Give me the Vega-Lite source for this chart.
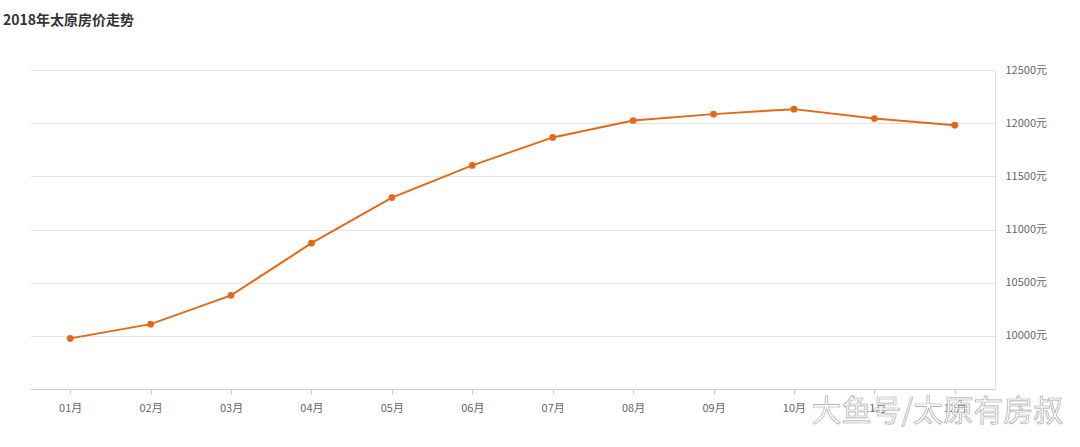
{
  "$schema": "https://vega.github.io/schema/vega-lite/v6.json",
  "width": 965,
  "height": 319,
  "autosize": {"type": "none"},
  "padding": {"left": 30, "top": 70, "right": 85, "bottom": 58},
  "background": "white",
  "config": {"view": {"stroke": null}, "font": "Noto Sans CJK SC"},
  "title": {
    "text": "2018年太原房价走势",
    "anchor": "start",
    "frame": "group",
    "dx": -27,
    "offset": 36,
    "fontSize": 14,
    "fontWeight": "bold",
    "color": "#333333",
    "font": "Noto Sans CJK SC"
  },
  "data": {
    "values": [
      {"month": "01月", "price": 9976},
      {"month": "02月", "price": 10110},
      {"month": "03月", "price": 10381},
      {"month": "04月", "price": 10871},
      {"month": "05月", "price": 11300},
      {"month": "06月", "price": 11603},
      {"month": "07月", "price": 11866},
      {"month": "08月", "price": 12025},
      {"month": "09月", "price": 12085},
      {"month": "10月", "price": 12132},
      {"month": "11月", "price": 12044},
      {"month": "12月", "price": 11981}
    ]
  },
  "layer": [
    {
      "mark": {"type": "line", "color": "#e2691a", "strokeWidth": 2},
      "encoding": {
        "x": {
          "field": "month",
          "type": "ordinal",
          "sort": null,
          "scale": {"type": "point", "padding": 0.5},
          "axis": {
            "title": null,
            "labelAngle": 0,
            "labelFontSize": 11,
            "labelColor": "#666666",
            "labelPadding": 8,
            "domainColor": "#cccccc",
            "tickColor": "#cccccc",
            "tickSize": 5,
            "grid": false
          }
        },
        "y": {
          "field": "price",
          "type": "quantitative",
          "scale": {"domain": [9500, 12500], "nice": false, "zero": false},
          "axis": {
            "orient": "right",
            "title": null,
            "values": [10000, 10500, 11000, 11500, 12000, 12500],
            "labelExpr": "datum.value + '元'",
            "labelFontSize": 11,
            "labelColor": "#666666",
            "labelPadding": 10,
            "ticks": false,
            "domainColor": "#e0e0e0",
            "gridColor": "#e3e3e3",
            "grid": true
          }
        }
      }
    },
    {
      "mark": {"type": "point", "filled": true, "color": "#e2691a", "size": 45, "opacity": 1},
      "encoding": {
        "x": {"field": "month", "type": "ordinal", "sort": null},
        "y": {"field": "price", "type": "quantitative"}
      }
    },
    {
      "data": {"values": [{"wm": "大鱼号/太原有房叔", "month": "11月", "price": 9500}]},
      "mark": {
        "type": "text",
        "fill": "#ffffff",
        "fillOpacity": 1,
        "stroke": "#a8a8a8",
        "strokeWidth": 0.7,
        "fontSize": 30,
        "font": "Noto Sans CJK SC",
        "align": "center",
        "baseline": "middle",
        "dx": 63,
        "dy": 23
      },
      "encoding": {
        "x": {"field": "month", "type": "ordinal", "sort": null},
        "y": {"field": "price", "type": "quantitative"},
        "text": {"field": "wm", "type": "nominal"}
      }
    }
  ]
}
